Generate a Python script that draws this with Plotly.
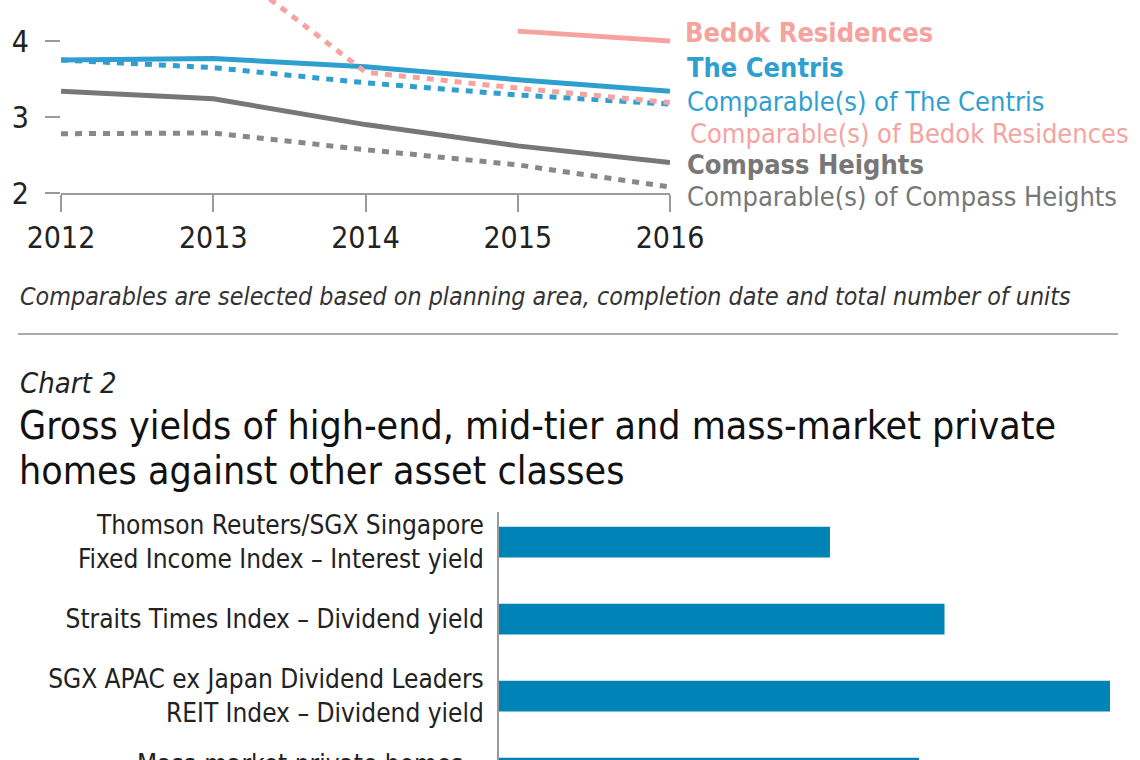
import plotly.graph_objects as go

W, H = 1140, 760

# ---------------- data ----------------
years = [2012, 2013, 2014, 2015, 2016]
centris = [3.75, 3.77, 3.66, 3.49, 3.34]
comp_centris = [3.75, 3.65, 3.45, 3.29, 3.17]
bedok = [None, None, None, 4.13, 4.0]
comp_bedok = [5.3, 5.12, 3.59, 3.38, 3.19]
compass = [3.34, 3.24, 2.9, 2.62, 2.4]
comp_compass = [2.78, 2.79, 2.57, 2.37, 2.08]

line_labels = ["Bedok Residences", "The Centris", "Comparable(s) of The Centris",
               "Comparable(s) of Bedok Residences", "Compass Heights",
               "Comparable(s) of Compass Heights"]

bar_categories = ["Thomson Reuters/SGX Singapore<br>Fixed Income Index – Interest yield",
                  "Straits Times Index – Dividend yield",
                  "SGX APAC ex Japan Dividend Leaders<br>REIT Index – Dividend yield",
                  "Mass-market private homes –<br>Gross rental yield"]
bar_values = [2.6, 3.5, 4.8, 3.3]

caption = "Comparables are selected based on planning area, completion date and total number of units"
chart2_label = "Chart 2"
chart2_title_lines = ["Gross yields of high-end, mid-tier and mass-market private",
                      "homes against other asset classes"]

# ---------------- style ----------------
FONT = "Liberation Sans Narrow, DejaVu Sans Condensed, Arial Narrow, sans-serif"
PINK = "#f6a39f"
BLUE = "#2f9fd0"
GRAY = "#777777"
GRAY2 = "#888888"
BAR = "#0083b6"
AXIS = "#9a9a9a"


def px(x):
    return x / W


def py(y):
    return 1 - y / H


fig = go.Figure()

# line chart
series = [
    (comp_compass, GRAY2, "7px,7px"),
    (compass, GRAY, "solid"),
    (comp_centris, BLUE, "7px,7px"),
    (centris, BLUE, "solid"),
    (comp_bedok, PINK, "7px,7px"),
    (bedok, PINK, "solid"),
]
for vals, col, dash in series:
    fig.add_trace(go.Scatter(x=years, y=vals, mode="lines",
                             line=dict(color=col, width=5, dash=dash),
                             xaxis="x", yaxis="y", showlegend=False,
                             hoverinfo="skip", connectgaps=False))

# bar chart
fig.add_trace(go.Bar(x=bar_values, y=bar_categories, orientation="h",
                     marker=dict(color=BAR, line=dict(width=0)),
                     xaxis="x2", yaxis="y2", showlegend=False, hoverinfo="skip"))

# y scale: 4 at py 41, 2 at py 193 -> 76 px per unit
ytop = 4 + 41 / 76

fig.update_layout(
    width=W, height=H,
    margin=dict(l=0, r=0, t=0, b=0, autoexpand=False),
    paper_bgcolor="white", plot_bgcolor="white",
    font=dict(family=FONT, color="#222222"),
    bargap=0.6,
    xaxis=dict(domain=[px(61), px(670)], range=[2012, 2016],
               tickvals=years, ticktext=[str(y) for y in years],
               showgrid=False, zeroline=False, automargin=False,
               showline=True, linecolor=AXIS, linewidth=2,
               ticks="outside", ticklen=17, tickwidth=2, tickcolor=AXIS,
               tickfont=dict(size=30, color="#222222", family=FONT),
               ticklabelstandoff=0, anchor="y"),
    yaxis=dict(domain=[py(193), 1], range=[2, ytop],
               tickvals=[2, 3, 4], showgrid=False, zeroline=False,
               showline=False, ticks="outside", ticklen=15, tickwidth=2,
               automargin=False,
               tickcolor=AXIS, tickfont=dict(size=30, color="#222222", family=FONT),
               ticklabelstandoff=10, anchor="x"),
    xaxis2=dict(domain=[px(499), 1], range=[0, 641 / (611 / 4.8)],
                showgrid=False, zeroline=False, showline=False, automargin=False,
                showticklabels=False, ticks="", anchor="y2"),
    yaxis2=dict(domain=[0, py(512)], range=[2.83, -0.39],
                type="category", showgrid=False, zeroline=False, automargin=False,
                showline=True, linecolor=AXIS, linewidth=2, ticks="",
                tickfont=dict(size=26, color="#222222", family=FONT),
                ticklabelstandoff=8, anchor="x2"),
)

# label of the last (partly off-page) category, whose tick falls outside the range
fig.add_annotation(x=px(484), y=py(747), xref="paper", yref="paper",
                   xanchor="right", yanchor="top", showarrow=False, align="right",
                   text=bar_categories[3],
                   font=dict(size=26, color="#222222", family=FONT))

# right-hand labels of the line chart
label_specs = [
    (line_labels[0], PINK, True, 683, 33),
    (line_labels[1], BLUE, True, 685, 67),
    (line_labels[2], BLUE, False, 685, 102),
    (line_labels[3], PINK, False, 688, 133),
    (line_labels[4], GRAY, True, 685, 164),
    (line_labels[5], GRAY, False, 685, 197),
]
for txt, col, bold, x0, y0 in label_specs:
    fig.add_annotation(x=px(x0), y=py(y0), xref="paper", yref="paper",
                       xanchor="left", yanchor="middle", showarrow=False,
                       text=f"<b>{txt}</b>" if bold else txt,
                       font=dict(size=27, color=col, family=FONT))

# caption
fig.add_annotation(x=px(18), y=py(296), xref="paper", yref="paper",
                   xanchor="left", yanchor="middle", showarrow=False,
                   text=f"<i>{caption}</i>",
                   font=dict(size=24.8, color="#333333", family=FONT))

# separator
fig.add_shape(type="line", xref="paper", yref="paper",
              x0=px(18), x1=px(1118), y0=py(334), y1=py(334),
              line=dict(color="#aaaaaa", width=2))

# chart 2 heading
fig.add_annotation(x=px(18), y=py(383), xref="paper", yref="paper",
                   xanchor="left", yanchor="middle", showarrow=False,
                   text=f"<i>{chart2_label}</i>",
                   font=dict(size=29, color="#222222", family=FONT))
for line_txt, yy in zip(chart2_title_lines, [425, 470]):
    fig.add_annotation(x=px(17), y=py(yy), xref="paper", yref="paper",
                       xanchor="left", yanchor="middle", showarrow=False, align="left",
                       text=line_txt,
                       font=dict(size=39, color="#111111", family=FONT))

fig.write_html("out.html", config={"displayModeBar": False},
               post_script="document.body.style.margin='0';document.body.style.overflow='hidden';")
